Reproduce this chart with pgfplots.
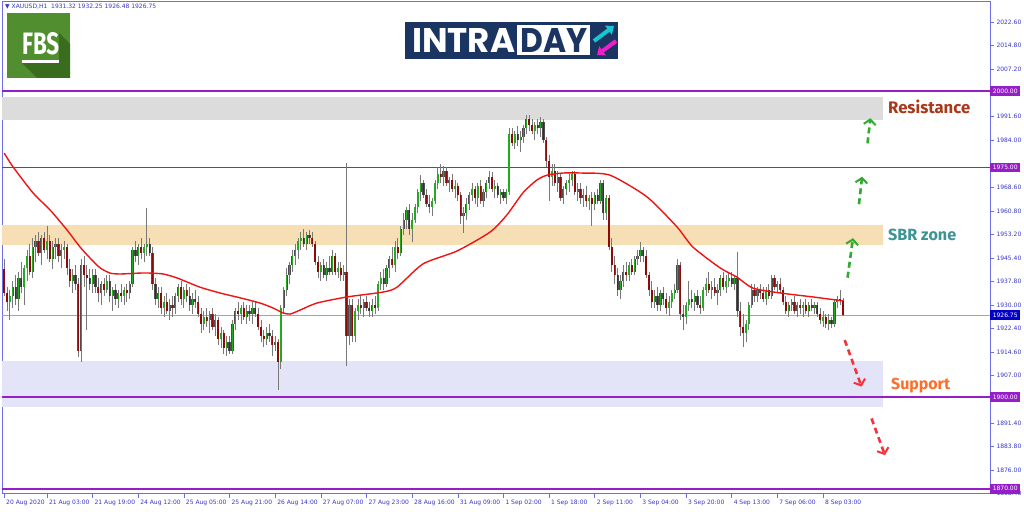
\documentclass[border=0pt]{standalone}
\usepackage{pgfplots}
\pgfplotsset{compat=1.18}
\usepackage{pgfplotstable}
\usetikzlibrary{arrows.meta}
\usepackage{fontspec}
\setmainfont{DejaVu Sans}
\newfontfamily\labfont{Fira Sans}
\newfontfamily\logofont{Poppins}

\definecolor{axblue}{RGB}{110,110,235}
\definecolor{tickblue}{RGB}{55,55,200}
\definecolor{lvpurple}{RGB}{150,30,200}
\definecolor{curblue}{RGB}{0,0,200}
\definecolor{resgray}{RGB}{220,220,220}
\definecolor{sbr}{RGB}{246,222,181}
\definecolor{supp}{RGB}{228,228,248}
\definecolor{upgreen}{RGB}{34,170,34}
\definecolor{dnred}{RGB}{140,10,10}
\definecolor{wick}{RGB}{120,120,120}
\definecolor{maRed}{RGB}{238,20,20}
\definecolor{arrgreen}{RGB}{50,170,50}
\definecolor{arrred}{RGB}{245,50,60}
\definecolor{restxt}{RGB}{168,56,26}
\definecolor{sbrtxt}{RGB}{60,148,148}
\definecolor{suptxt}{RGB}{255,110,40}
\definecolor{fbsgreen}{RGB}{80,142,48}
\definecolor{fbsdark}{RGB}{58,108,30}
\definecolor{navy}{RGB}{27,53,98}
\definecolor{lcyan}{RGB}{20,200,210}
\definecolor{lmag}{RGB}{240,30,200}

\pgfplotstableread{
i o h l c
0 1942 1945 1933 1934
1 1934 1936 1928 1931
2 1931 1935 1925 1933
3 1933 1938 1929 1936
4 1936 1940 1930 1932
5 1932 1941 1928 1939
6 1939 1944 1934 1936
7 1936 1943 1930 1942
8 1942 1948 1938 1946
9 1946 1950 1940 1941
10 1941 1952 1939 1949
11 1949 1953 1944 1951
12 1951 1954 1946 1947
13 1947 1953 1943 1952
14 1952 1954 1947 1948
15 1948 1956 1945 1951
16 1951 1953 1944 1945
17 1945 1951 1942 1949
18 1949 1952 1945 1950
19 1950 1952 1944 1946
20 1946 1950 1942 1948
21 1948 1951 1945 1949
22 1949 1950 1940 1942
23 1942 1945 1936 1938
24 1938 1942 1934 1940
25 1940 1943 1935 1937
26 1937 1939 1913 1915
27 1915 1945 1911.5 1943
28 1943 1946 1936 1940
29 1940 1943 1922 1939
30 1939 1942 1935 1937
31 1937 1942 1934 1940
32 1940 1942 1934 1936
33 1936 1939 1931 1934
34 1934 1938 1930 1937
35 1937 1939 1933 1935
36 1935 1940 1934 1938
37 1938 1940 1931 1933
38 1933 1936 1928 1935
39 1935 1937 1930 1932
40 1932 1935 1929 1934
41 1934 1937 1931 1933
42 1933 1936 1930 1935
43 1935 1937 1931 1934
44 1934 1938 1932 1937
45 1937 1949 1936 1948
46 1948 1951 1944 1946
47 1946 1950 1943 1949
48 1949 1952 1945 1947
49 1947 1950 1944 1949
50 1949 1961.8 1946 1950
51 1950 1952 1946 1947
52 1947 1949 1935 1937
53 1937 1939 1930 1932
54 1932 1936 1929 1934
55 1934 1936 1927 1929
56 1929 1933 1926 1931
57 1931 1934 1927 1928
58 1928 1932 1925 1930
59 1930 1933 1926 1929
60 1929 1934 1927 1933
61 1933 1937 1931 1936
62 1936 1938 1930 1932
63 1932 1936 1929 1935
64 1935 1937 1931 1933
65 1933 1936 1928 1930
66 1930 1934 1927 1932
67 1932 1935 1929 1931
68 1931 1933 1926 1927
69 1927 1929 1921 1924
70 1924 1928 1922 1926
71 1926 1929 1923 1925
72 1925 1928 1921 1927
73 1927 1929 1922 1923
74 1923 1927 1920 1925
75 1925 1926 1917 1919
76 1919 1923 1916 1921
77 1921 1922 1914 1916
78 1916 1920 1913.5 1918
79 1918 1920 1914 1915
80 1915 1925 1914 1924
81 1924 1929 1922 1928
82 1928 1931 1925 1927
83 1927 1930 1924 1929
84 1929 1931 1925 1926
85 1926 1930 1924 1928
86 1928 1930 1925 1927
87 1927 1931 1924 1929
88 1929 1931 1926 1927
89 1927 1929 1922 1923
90 1923 1925 1918 1920
91 1920 1922 1916.5 1919
92 1919 1923 1917 1921
93 1921 1924 1918 1920
94 1920 1922 1913.5 1917
95 1917 1920 1915 1918
96 1918 1919 1902.3 1911.5
97 1911.5 1930 1909 1929
98 1929 1936 1927 1935
99 1935 1942 1933 1940
100 1940 1944 1937 1943
101 1943 1948 1941 1946
102 1946 1950 1943 1948
103 1948 1952 1945 1951
104 1951 1954 1948 1952
105 1952 1955 1949 1950
106 1950 1954 1948 1953
107 1953 1954.5 1950 1952
108 1952 1954 1949 1950
109 1950 1951 1943 1944
110 1944 1946 1939 1941
111 1941 1944 1938 1943
112 1943 1945 1939 1940
113 1940 1944 1938 1942
114 1942 1946 1940 1941
115 1941 1948 1940 1946
116 1946 1947 1940 1941
117 1941 1944 1939 1942
118 1942 1944 1938 1940
119 1940 1943 1938 1941
120 1941 1976.5 1910 1920
121 1920 1932 1917 1930
122 1930 1932 1918 1920
123 1920 1929 1918 1928
124 1928 1932 1925 1930
125 1930 1933 1927 1929
126 1929 1932 1926 1931
127 1931 1933 1928 1929
128 1929 1931 1926 1928
129 1928 1932 1926 1930
130 1930 1933 1927 1929
131 1929 1938 1928 1937
132 1937 1941 1935 1939
133 1939 1942 1935 1937
134 1937 1943 1936 1942
135 1942 1946 1939 1945
136 1945 1949 1942 1943
137 1943 1951 1941 1949
138 1949 1952 1945 1947
139 1947 1956 1946 1955
140 1955 1960 1953 1958
141 1958 1962 1955 1961
142 1961 1963 1953 1955
143 1955 1960 1950.5 1958
144 1958 1963 1957 1962
145 1962 1968 1960 1967
146 1967 1972.5 1964 1970
147 1970 1971 1965 1966
148 1966 1968 1962 1963
149 1963 1966 1960 1962
150 1962 1965 1959 1964
151 1964 1971 1963 1970
152 1970 1975 1968 1973
153 1973 1976 1970 1972
154 1972 1975.5 1969 1974
155 1974 1975 1969 1970
156 1970 1972 1967 1971
157 1971 1973 1967 1968
158 1968 1971 1965 1969
159 1969 1970 1964 1966
160 1966 1967 1956.5 1959
161 1959 1962 1953.5 1960
162 1960 1965 1958 1963
163 1963 1967 1961 1966
164 1966 1970 1964 1968
165 1968 1969 1963 1965
166 1965 1970 1962 1969
167 1969 1971 1963 1964
168 1964 1968 1962 1967
169 1967 1971 1965 1970
170 1970 1974 1968 1972
171 1972 1973.5 1967 1968
172 1968 1971 1965 1969
173 1969 1970 1965 1966
174 1966 1968 1963 1967
175 1967 1968 1964 1965
176 1965 1968 1963 1967
177 1967 1988 1966 1986
178 1986 1988 1982 1983
179 1983 1987 1981 1986
180 1986 1988.5 1982 1984
181 1984 1987 1980 1985
182 1985 1989 1983 1988
183 1988 1992 1986 1991
184 1991 1992.2 1987 1989
185 1989 1991 1986 1987
186 1987 1990 1984 1989
187 1989 1991 1986 1988
188 1988 1991.5 1985 1990
189 1990 1991 1983 1984
190 1984 1985 1975 1977
191 1977 1979 1964 1972
192 1972 1976 1969 1974
193 1974 1976 1969 1970
194 1970 1974 1967 1972
195 1972 1973 1964 1965
196 1965 1969 1963 1968
197 1968 1971 1966 1970
198 1970 1973 1967 1971
199 1971 1974 1969 1973
200 1973 1974 1966 1967
201 1967 1970 1964 1968
202 1968 1970 1963 1965
203 1965 1968 1962 1966
204 1966 1969 1962 1964
205 1964 1966 1961 1965
206 1965 1967 1956 1963
207 1963 1967 1961 1966
208 1966 1968 1963 1964
209 1964 1971 1963 1970
210 1970 1971 1958 1960
211 1960 1966 1958 1965
212 1965 1966 1948 1949
213 1949 1952 1941 1943
214 1943 1946 1937 1940
215 1940 1942 1933 1935
216 1935 1940 1932 1938
217 1938 1943 1936 1941
218 1941 1944 1938 1940
219 1940 1944 1938 1943
220 1943 1945 1940 1941
221 1941 1946 1940 1945
222 1945 1948 1943 1946
223 1946 1950.7 1944 1948
224 1948 1949 1944 1946
225 1946 1948 1939 1940
226 1940 1941 1933 1935
227 1935 1938 1929 1931
228 1931 1935 1929 1933
229 1933 1936 1928 1930
230 1930 1935 1928 1934
231 1934 1936 1930 1932
232 1932 1934 1927 1929
233 1929 1933 1926.5 1931
234 1931 1935 1929 1934
235 1934 1937 1932 1935
236 1935 1945 1934 1943
237 1943 1944 1925 1927
238 1927 1930 1922 1926
239 1926 1931 1924 1930
240 1930 1938 1928 1932
241 1932 1935 1929 1931
242 1931 1934 1928 1933
243 1933 1935 1929 1930
244 1930 1933 1927 1929
245 1929 1936 1928 1935
246 1935 1939 1933 1937
247 1937 1941 1934 1935
248 1935 1938 1932 1936
249 1936 1939 1933 1934
250 1934 1937 1930 1935
251 1935 1940 1933 1939
252 1939 1941 1935 1936
253 1936 1940 1934 1938
254 1938 1941 1936 1939
255 1939 1941 1936 1937
256 1937 1940 1935 1939
257 1939 1947.4 1926 1928
258 1928 1931 1920 1923
259 1923 1927 1916.3 1921
260 1921 1925 1918 1924
261 1924 1931 1922 1930
262 1930 1937 1929 1935
263 1935 1937 1931 1933
264 1933 1936 1931 1935
265 1935 1937 1932 1934
266 1934 1936 1931 1932
267 1932 1936 1930 1935
268 1935 1937 1932 1933
269 1933 1940 1932 1939
270 1939 1940 1935 1936
271 1936 1938 1934 1937
272 1937 1939 1934 1935
273 1935 1936 1930 1931
274 1931 1933 1927 1928
275 1928 1931 1926 1930
276 1930 1932 1928 1931
277 1931 1933 1927 1928
278 1928 1931 1926 1930
279 1930 1932 1927 1929
280 1929 1931 1926 1930
281 1930 1932 1927 1928
282 1928 1931 1926 1930
283 1930 1932 1928 1929
284 1929 1931 1927 1930
285 1930 1931 1926 1927
286 1927 1929 1924 1925
287 1925 1928 1923 1926
288 1926 1927 1922.5 1924
289 1924 1927 1922 1925
290 1925 1926 1922.5 1924
291 1924 1932 1923 1931
292 1931 1933 1929 1932
293 1932 1935 1930 1931.32
294 1931.32 1932.25 1926.48 1926.75
}\candles

\begin{document}
\begin{tikzpicture}
\useasboundingbox (0,0) rectangle (1024pt,511pt);
\fill[white] (0,0) rectangle (1024pt,511pt);
\begin{axis}[
  at={(2pt,17.3pt)}, anchor=south west,
  scale only axis, width=988pt, height=492.7pt,
  xmin=-0.771, xmax=345.53, ymin=1868.4, ymax=2029.41,
  clip=false,
  axis line style={axblue, line width=0.8pt},
  tick style={axblue, line width=0.6pt},
  major tick length=4pt,
  tick align=outside,
  ytick pos=right, yticklabel pos=right,
  xtick pos=bottom,
  ytick={1868.4,1876,1883.8,1891.4,1899.2,1907,1914.6,1922.4,1930,1937.8,1945.4,1953.2,1960.8,1968.6,1976.2,1984,1991.6,1999.4,2007.2,2014.8,2022.6},
  yticklabels={1868.40,1876.00,1883.80,1891.40,{},1907.00,1914.60,1922.40,1930.00,1937.80,1945.40,1953.20,1960.80,1968.60,{},1984.00,1991.60,{},2007.20,2014.80,2022.60},
  xtick={0,15,31,47,63,79,95,111,127,143,159,175,191,207,223,239,255,271,287},
  xticklabels={20 Aug 2020,21 Aug 03:00,21 Aug 19:00,24 Aug 12:00,25 Aug 05:00,25 Aug 21:00,26 Aug 14:00,27 Aug 07:00,27 Aug 23:00,28 Aug 16:00,31 Aug 09:00,1 Sep 02:00,1 Sep 18:00,2 Sep 11:00,3 Sep 04:00,3 Sep 20:00,4 Sep 13:00,7 Sep 06:00,8 Sep 03:00},
  ticklabel style={font=\fontsize{6}{7}\selectfont, text=tickblue},
  xticklabel style={anchor=north west, xshift=-1.5pt, yshift=1pt},
  yticklabel style={anchor=west, xshift=-1pt},
]
% zones
\addplot[fill=resgray, draw=none] coordinates {(-0.771,1990.6) (308,1990.6) (308,1998.0) (-0.771,1998.0)} --cycle;
\addplot[fill=sbr, draw=none] coordinates {(-0.771,1949.7) (308,1949.7) (308,1956.2) (-0.771,1956.2)} --cycle;
\addplot[fill=supp, draw=none] coordinates {(-0.771,1896.7) (308,1896.7) (308,1911.8) (-0.771,1911.8)} --cycle;
% level lines
\addplot[lvpurple, line width=1.5pt] coordinates {(-0.771,2000) (345.53,2000)};
\addplot[lvpurple, line width=1.7pt] coordinates {(-0.771,1975) (345.53,1975)};
\addplot[lvpurple, line width=1.5pt] coordinates {(-0.771,1900) (345.53,1900)};
\addplot[lvpurple, line width=1.5pt] coordinates {(-0.771,1870) (345.53,1870)};
\addplot[black!35, line width=0.9pt] coordinates {(-0.771,1926.75) (345.53,1926.75)};
% wicks
\addplot[draw=none, mark=none, error bars/.cd, y dir=both, y explicit, error mark=none,
  error bar style={draw=wick, line width=0.9pt}]
  table[x=i, y expr={(\thisrow{h}+\thisrow{l})/2}, y error expr={(\thisrow{h}-\thisrow{l})/2}] {\candles};
% bodies: outline
\addplot[draw=none, mark=none, error bars/.cd, y dir=both, y explicit, error mark=none,
  error bar style={draw=black!70, line width=2.2pt}]
  table[x=i, y expr={(\thisrow{o}+\thisrow{c})/2}, y error expr={abs(\thisrow{c}-\thisrow{o})/2}] {\candles};
% up bodies
\addplot[draw=none, mark=none, restrict expr to domain={\thisrow{c}-\thisrow{o}}{0:10000},
  error bars/.cd, y dir=both, y explicit, error mark=none,
  error bar style={draw=upgreen, line width=1.4pt}]
  table[x=i, y expr={(\thisrow{o}+\thisrow{c})/2}, y error expr={abs(\thisrow{c}-\thisrow{o})/2}] {\candles};
% down bodies
\addplot[draw=none, mark=none, restrict expr to domain={\thisrow{c}-\thisrow{o}}{-10000:-0.0001},
  error bars/.cd, y dir=both, y explicit, error mark=none,
  error bar style={draw=dnred, line width=1.4pt}]
  table[x=i, y expr={(\thisrow{o}+\thisrow{c})/2}, y error expr={abs(\thisrow{c}-\thisrow{o})/2}] {\candles};
% moving average
\addplot[maRed, line width=1.4pt, smooth, tension=0.4] coordinates {
(0,1979.7) (3.1,1975.2) (10.1,1966.7) (16.1,1961.1) (22,1954.6) (26.6,1949.0) (30.1,1945.4) (33.6,1942.2) (37.1,1940.5) (40.6,1940.2) (47.6,1940.5) (51.1,1940.5) (55.7,1940.2) (60.6,1938.9) (68.6,1935.9) (75.6,1934.0) (82.7,1932.4) (89.7,1930.7) (94.2,1929.1) (97.7,1927.5) (100.2,1927.1) (103.7,1928.4) (109.6,1930.7) (120.2,1932.7) (132.8,1934.3) (137.7,1935.9) (146.8,1943.5) (158.7,1947.7) (170.3,1953.9) (176.2,1959.5) (181.8,1966.7) (186.7,1970.9) (190.3,1972.5) (195.9,1973.2) (201.8,1973.2) (212.3,1972.5) (225.3,1965.4) (235.8,1955.6) (241.4,1949.0) (250.9,1942.2) (256.8,1939.2) (262.4,1935.6) (271.9,1934.0) (283.4,1932.7) (294,1931.4)};
% arrows
\addplot[arrgreen, line width=2.6pt, dash pattern=on 6pt off 4pt, -{Straight Barb[length=5pt,width=12pt,line width=2pt]}] coordinates {(295.6,1939.0) (297.5,1951.9)};
\addplot[arrgreen, line width=2.6pt, dash pattern=on 6pt off 4pt, -{Straight Barb[length=5pt,width=12pt,line width=2pt]}] coordinates {(299.6,1963.0) (300.7,1972.0)};
\addplot[arrgreen, line width=2.6pt, dash pattern=on 6pt off 4pt, -{Straight Barb[length=5pt,width=12pt,line width=2pt]}] coordinates {(302.6,1982.9) (303.6,1991.1)};
\addplot[arrred, line width=2.6pt, dash pattern=on 6pt off 4pt, -{Straight Barb[length=5pt,width=12pt,line width=2pt]}] coordinates {(294.6,1918.6) (300.5,1903.4)};
\addplot[arrred, line width=2.6pt, dash pattern=on 6pt off 4pt, -{Straight Barb[length=5pt,width=12pt,line width=2pt]}] coordinates {(304.0,1893.0) (308.7,1881.0)};
% price boxes
\node[fill=lvpurple, text=white, font=\fontsize{6}{7}\selectfont, inner sep=0pt, minimum width=30pt, minimum height=9.5pt, anchor=west] at (axis cs:345.53,2000) {2000.00};
\node[fill=lvpurple, text=white, font=\fontsize{6}{7}\selectfont, inner sep=0pt, minimum width=30pt, minimum height=9.5pt, anchor=west] at (axis cs:345.53,1975) {1975.00};
\node[fill=lvpurple, text=white, font=\fontsize{6}{7}\selectfont, inner sep=0pt, minimum width=30pt, minimum height=9.5pt, anchor=west] at (axis cs:345.53,1900) {1900.00};
\node[fill=lvpurple, text=white, font=\fontsize{6}{7}\selectfont, inner sep=0pt, minimum width=30pt, minimum height=9.5pt, anchor=west] at (axis cs:345.53,1870) {1870.00};
\node[fill=curblue, text=white, font=\fontsize{6}{7}\selectfont, inner sep=0pt, minimum width=30pt, minimum height=9.5pt, anchor=west] at (axis cs:345.53,1926.75) {1926.75};
\end{axis}
% header
\node[anchor=west, inner sep=0pt, text=tickblue, font=\fontsize{6}{7}\selectfont] at (5pt,504pt) {▼ XAUUSD,H1\ \ 1931.32 1932.25 1926.48 1926.75};
% zone labels
\node[anchor=base west, inner sep=0pt, text=restxt] at (888pt,397pt) {\resizebox{82pt}{!}{\labfont\bfseries Resistance}};
\node[anchor=base west, inner sep=0pt, text=sbrtxt] at (888pt,270pt) {\resizebox{68pt}{!}{\labfont\bfseries SBR zone}};
\node[anchor=base west, inner sep=0pt, text=suptxt] at (891pt,121pt) {\resizebox{59pt}{!}{\labfont\bfseries Support}};
% FBS logo
\fill[fbsgreen] (7pt,433pt) rectangle (70pt,498pt);
\fill[fbsdark] (22pt,448pt) -- (59pt,448pt) -- (59pt,478pt) -- (70pt,467pt) -- (70pt,433pt) -- (37pt,433pt) -- cycle;
\node[anchor=base west, inner sep=0pt, text=white] at (22pt,456pt) {\resizebox{37pt}{22pt}{\labfont\bfseries FBS}};
\fill[white] (22pt,448pt) rectangle (59pt,450.5pt);
% INTRADAY logo
\fill[navy] (405pt,452pt) rectangle (618pt,489pt);
\node[anchor=base west, inner sep=0pt, text=white] at (412pt,458pt) {\resizebox{103pt}{24pt}{\logofont\bfseries INTRA}};
\fill[white] (517pt,456pt) rectangle (590pt,486pt);
\node[anchor=base west, inner sep=0pt, text=navy] at (520pt,458pt) {\resizebox{67pt}{24pt}{\logofont\bfseries DAY}};
\draw[lcyan, line width=4pt, -{Triangle[length=7pt,width=11pt]}] (594pt,470pt) -- (614pt,485pt);
\draw[lmag, line width=4pt, -{Triangle[length=7pt,width=11pt]}] (616pt,470pt) -- (597pt,456pt);
\end{tikzpicture}
\end{document}
